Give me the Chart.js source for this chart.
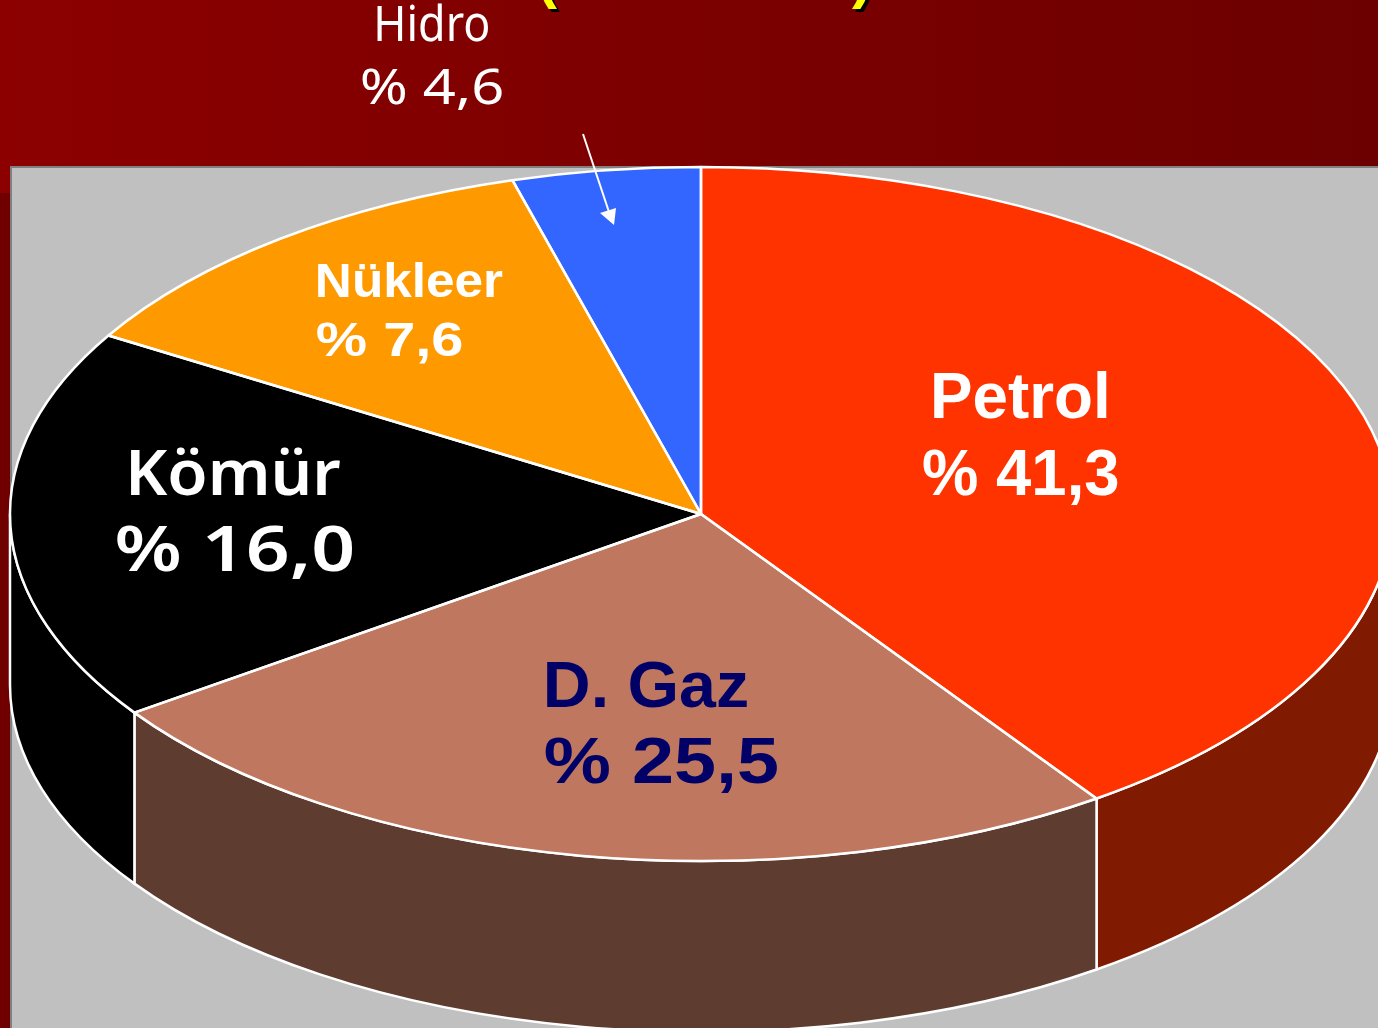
<!DOCTYPE html>
<html lang="tr">
<head>
<meta charset="utf-8">
<title>Enerji kaynakları</title>
<style>
html,body{margin:0;padding:0;background:#c0c0c0;overflow:hidden}
canvas{display:block}
</style>
<script src="https://cdn.jsdelivr.net/npm/chart.js@4"></script>
</head>
<body>
<canvas id="c" width="1378" height="1028"></canvas>
<script>
// Data
const categories = ['Petrol', 'D. Gaz', 'Kömür', 'Nükleer', 'Hidro'];
const printedPercent = ['% 41,3', '% 25,5', '% 16,0', '% 7,6', '% 4,6'];
// Slice shares as actually drawn in the tilted 3-D pie (angles measured on the picture)
const drawnShare = [40.3, 25.0, 18.3, 12.0, 4.4];

// Styles
const topColors = ['#ff3300', '#bf785f', '#000000', '#ff9900', '#3366ff'];
const wallColors = ['#801a00', '#5e3c30', '#000000', '#000000', '#000000'];
const RX = 691, RY = 347, DEPTH = 171;

// Label layout: font, colour, [left, baseline, width] for name and percent
const labelLayout = [
  {font: 'bold 64px "Liberation Sans"', color: '#ffffff', name: [934, 418, 173], pct: [923, 495, 195]},
  {font: 'bold 64px "Liberation Sans"', color: '#000066', name: [547, 707, 200], pct: [545, 783, 232]},
  {font: '600 64px "Noto Sans"',        color: '#ffffff', name: [130, 495, 210], pct: [117, 571, 235]},
  {font: 'bold 49px "Liberation Sans"', color: '#ffffff', name: [318, 297, 185], pct: [317, 356, 145]},
  {font: '400 49px "Noto Sans"',        color: '#ffffff', name: [377, 41, 111],  pct: [362, 104, 140]}
];

function fitText(ctx, s, x, y, w) {
  ctx.save();
  const m = ctx.measureText(s);
  const inkW = m.actualBoundingBoxRight + m.actualBoundingBoxLeft;
  const k = w / inkW;
  ctx.translate(x + m.actualBoundingBoxLeft * k, y);
  ctx.scale(k, 1);
  ctx.fillText(s, 0, 0);
  ctx.restore();
}

const pie3d = {
  id: 'pie3d',
  beforeDraw(chart) {
    const {ctx, width, height} = chart;
    ctx.save();
    const g = ctx.createLinearGradient(0, 0, width, 0);
    g.addColorStop(0, '#8c0000');
    g.addColorStop(1, '#6c0000');
    ctx.fillStyle = g;
    ctx.fillRect(0, 0, width, 167);
    ctx.fillStyle = '#8c0000';
    ctx.fillRect(0, 167, 10, 26);
    ctx.fillStyle = '#700000';
    ctx.fillRect(0, 193, 10, height - 193);
    ctx.fillStyle = '#c0c0c0';
    ctx.fillRect(10, 166, width - 10, height - 166);
    ctx.fillStyle = '#808080';
    ctx.fillRect(10, 166, width - 10, 2);
    ctx.fillRect(10, 166, 2, height - 166);

    // Title fragment: only the bottoms of its brackets are inside the frame
    ctx.font = 'bold 60px "Liberation Sans"';
    ctx.textBaseline = 'alphabetic';
    [['(', 537, -3], [')', 852, -3]].forEach(([s, x, y]) => {
      ctx.fillStyle = '#000000';
      ctx.fillText(s, x + 3, y + 3);
      ctx.fillStyle = '#ffff00';
      ctx.fillText(s, x, y);
    });
    ctx.restore();
  },
  beforeDatasetsDraw(chart) {
    const {ctx} = chart;
    const arcs = chart.getDatasetMeta(0).data;
    const cx = arcs[0].x, cy = arcs[0].y;
    ctx.save();
    ctx.lineWidth = 2.5;
    ctx.strokeStyle = '#ffffff';
    arcs.forEach((arc, i) => {
      // front-facing part of the slice, canvas angles 0..PI
      let a = arc.startAngle, b = arc.endAngle;
      const windows = [[0, Math.PI], [2 * Math.PI, 3 * Math.PI]];
      windows.forEach(([lo, hi]) => {
        const s = Math.max(a, lo), e = Math.min(b, hi);
        if (e <= s) return;
        ctx.beginPath();
        ctx.ellipse(cx, cy, RX, RY, 0, s, e);
        ctx.ellipse(cx, cy + DEPTH, RX, RY, 0, e, s, true);
        ctx.closePath();
        ctx.fillStyle = wallColors[i];
        ctx.fill();
        ctx.stroke();
      });
    });
    ctx.restore();
    // Squash the library's circular pie into the tilted ellipse
    ctx.save();
    ctx.translate(cx, cy);
    ctx.scale(1, RY / RX);
    ctx.translate(-cx, -cy);
  },
  afterDatasetsDraw(chart) {
    const {ctx} = chart;
    ctx.restore();
    const arcs = chart.getDatasetMeta(0).data;
    ctx.save();
    ctx.lineWidth = 2.5;
    ctx.strokeStyle = '#ffffff';
    ctx.lineJoin = 'round';
    arcs.forEach(arc => {
      ctx.beginPath();
      ctx.moveTo(arc.x, arc.y);
      ctx.ellipse(arc.x, arc.y, RX, RY, 0, arc.startAngle, arc.endAngle);
      ctx.closePath();
      ctx.stroke();
    });

    // Labels
    ctx.textBaseline = 'alphabetic';
    ctx.textAlign = 'left';
    categories.forEach((name, i) => {
      const l = labelLayout[i];
      ctx.font = l.font;
      ctx.fillStyle = l.color;
      fitText(ctx, name, l.name[0], l.name[1], l.name[2]);
      fitText(ctx, printedPercent[i], l.pct[0], l.pct[1], l.pct[2]);
    });

    // Leader arrow from the Hidro label to its slice
    ctx.strokeStyle = '#ffffff';
    ctx.fillStyle = '#ffffff';
    ctx.lineWidth = 2;
    ctx.beginPath();
    ctx.moveTo(583, 134);
    ctx.lineTo(609, 212);
    ctx.stroke();
    ctx.beginPath();
    ctx.moveTo(614, 225);
    ctx.lineTo(600, 213);
    ctx.lineTo(616, 208);
    ctx.closePath();
    ctx.fill();
    ctx.restore();
  }
};

new Chart(document.getElementById('c'), {
  type: 'pie',
  data: {
    labels: categories,
    datasets: [{
      data: drawnShare,
      backgroundColor: topColors,
      borderWidth: 0,
      radius: RX,
      clip: false
    }]
  },
  options: {
    responsive: false,
    animation: false,
    layout: {padding: {left: 24}},
    events: [],
    plugins: {legend: {display: false}, tooltip: {enabled: false}, title: {display: false}}
  },
  plugins: [pie3d]
});
</script>
</body>
</html>
